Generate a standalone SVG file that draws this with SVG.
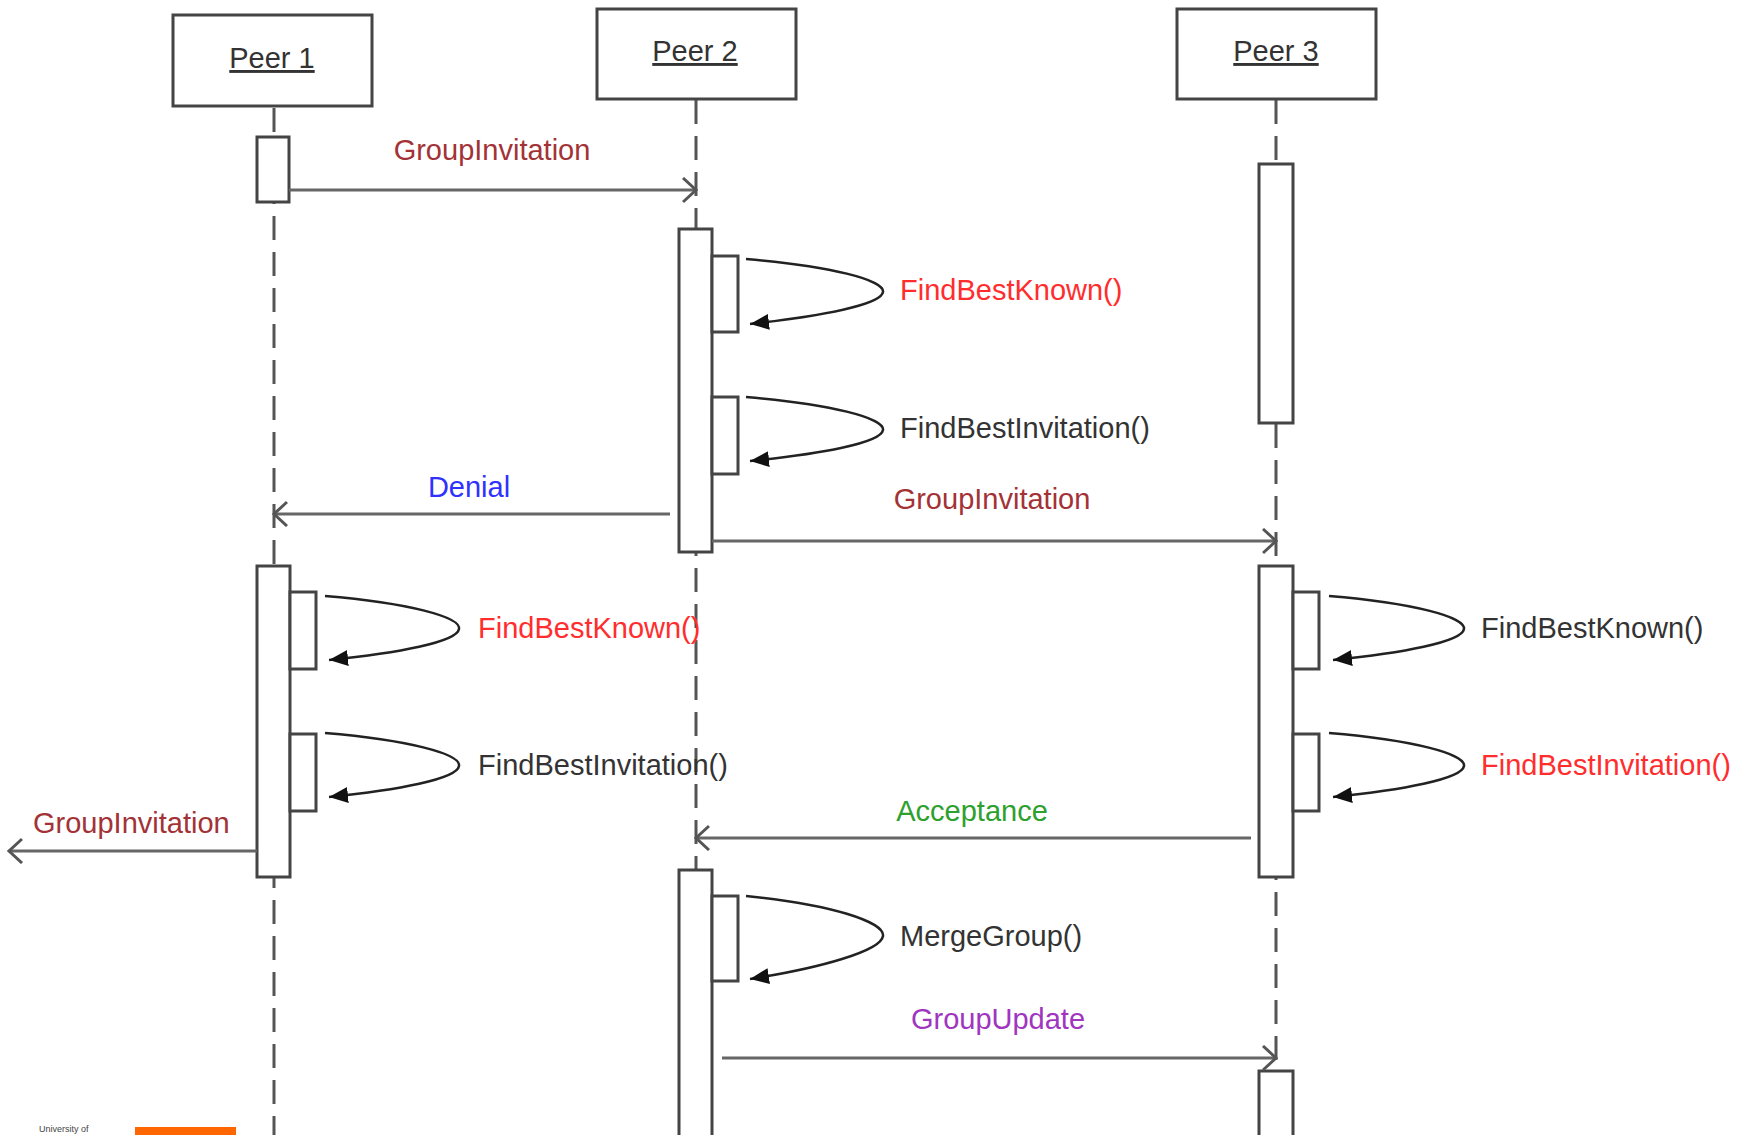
<svg xmlns="http://www.w3.org/2000/svg" width="1752" height="1135" viewBox="0 0 1752 1135">
<style>
.box{fill:#fff;stroke:#444;stroke-width:3}
.bar{fill:#fff;stroke:#444;stroke-width:3}
.life{stroke:#555;stroke-width:3;stroke-dasharray:24 12;fill:none}
.msg{stroke:#666;stroke-width:3.2;fill:none;marker-end:url(#open)}
.self{stroke:#222;stroke-width:2.5;fill:none;marker-end:url(#solid)}
text{font-family:"Liberation Sans",Arial,sans-serif;font-size:29px}
.hd{fill:#333;text-anchor:middle;text-decoration:underline}
.c{text-anchor:middle}
.dark{fill:#333}
.red{fill:#FF2D2D}
.brown{fill:#A33236}
.blue{fill:#3030FF}
.green{fill:#2EA02E}
.purple{fill:#A035C0}
</style>
<defs>
<marker id="open" markerUnits="userSpaceOnUse" markerWidth="20" markerHeight="28" refX="14" refY="13" orient="auto">
<path d="M1,1 L14,13 L1,25" fill="none" stroke="#555" stroke-width="3"/>
</marker>
<marker id="solid" markerUnits="userSpaceOnUse" markerWidth="22" markerHeight="18" refX="19" refY="8" orient="auto">
<path d="M0,0 L19,8 L0,16 z" fill="#111"/>
</marker>
</defs>
<rect width="1752" height="1135" fill="#fff"/>

<g id="lifelines">
<line class="life" x1="274" y1="108" x2="274" y2="1135"/>
<line class="life" x1="696" y1="100" x2="696" y2="1135"/>
<line class="life" x1="1276" y1="100" x2="1276" y2="1135"/>
</g>

<g id="peer1">
<rect class="box" x="173" y="15" width="199" height="91"/>
<text class="hd" x="272" y="68">Peer 1</text>
<rect class="bar" x="257" y="137" width="32" height="65"/>
<rect class="bar" x="257" y="566" width="33" height="311"/>
<rect class="bar" x="290" y="592" width="26" height="77"/>
<rect class="bar" x="290" y="734" width="26" height="77"/>
</g>

<g id="peer2">
<rect class="box" x="597" y="9" width="199" height="90"/>
<text class="hd" x="695" y="61">Peer 2</text>
<rect class="bar" x="679" y="229" width="33" height="323"/>
<rect class="bar" x="712" y="256" width="26" height="76"/>
<rect class="bar" x="712" y="397" width="26" height="77"/>
<rect class="bar" x="679" y="870" width="33" height="280"/>
<rect class="bar" x="712" y="896" width="26" height="85"/>
</g>

<g id="peer3">
<rect class="box" x="1177" y="9" width="199" height="90"/>
<text class="hd" x="1276" y="61">Peer 3</text>
<rect class="bar" x="1259" y="164" width="34" height="259"/>
<rect class="bar" x="1259" y="566" width="34" height="311"/>
<rect class="bar" x="1293" y="592" width="26" height="77"/>
<rect class="bar" x="1293" y="734" width="26" height="77"/>
<rect class="bar" x="1259" y="1071" width="34" height="80"/>
</g>

<g id="connectors">
<line class="msg" x1="289" y1="190" x2="696" y2="190"/>
<path class="self" d="M746,259 C830,266 885,280 883,292 C881,305 820,316 750,324"/>
<path class="self" d="M746,397 C830,404 885,418 883,430 C881,443 820,454 750,461"/>
<line class="msg" x1="670" y1="514" x2="274" y2="514"/>
<line class="msg" x1="712" y1="541" x2="1276" y2="541"/>
<path class="self" d="M325,596 C409,603 461,617 459,629 C457,642 398,653 329,660"/>
<path class="self" d="M325,733 C409,740 461,754 459,766 C457,779 398,790 329,797"/>
<path class="self" d="M1329,596 C1413,603 1466,617 1464,629 C1462,642 1402,653 1333,660"/>
<path class="self" d="M1329,733 C1413,740 1466,754 1464,766 C1462,779 1402,790 1333,797"/>
<line class="msg" x1="257" y1="851" x2="9" y2="851"/>
<line class="msg" x1="1251" y1="838" x2="696" y2="838"/>
<path class="self" d="M746,896 C830,904 885,922 883,936 C881,951 820,968 750,979"/>
<line class="msg" x1="722" y1="1058" x2="1276" y2="1058"/>
</g>

<g id="labels">
<text class="brown c" x="492" y="160">GroupInvitation</text>
<text class="red" x="900" y="300">FindBestKnown()</text>
<text class="dark" x="900" y="438">FindBestInvitation()</text>
<text class="blue c" x="469" y="497">Denial</text>
<text class="brown c" x="992" y="509">GroupInvitation</text>
<text class="red" x="478" y="638">FindBestKnown()</text>
<text class="dark" x="478" y="775">FindBestInvitation()</text>
<text class="dark" x="1481" y="638">FindBestKnown()</text>
<text class="red" x="1481" y="775">FindBestInvitation()</text>
<text class="brown" x="33" y="833">GroupInvitation</text>
<text class="green c" x="972" y="821">Acceptance</text>
<text class="dark" x="900" y="946">MergeGroup()</text>
<text class="purple c" x="998" y="1029">GroupUpdate</text>
</g>

<g id="footer">
<text x="39" y="1132" style="font-size:9px;fill:#444">University of</text>
<rect x="135" y="1127" width="101" height="8" fill="#FF6600"/>
</g>
</svg>
